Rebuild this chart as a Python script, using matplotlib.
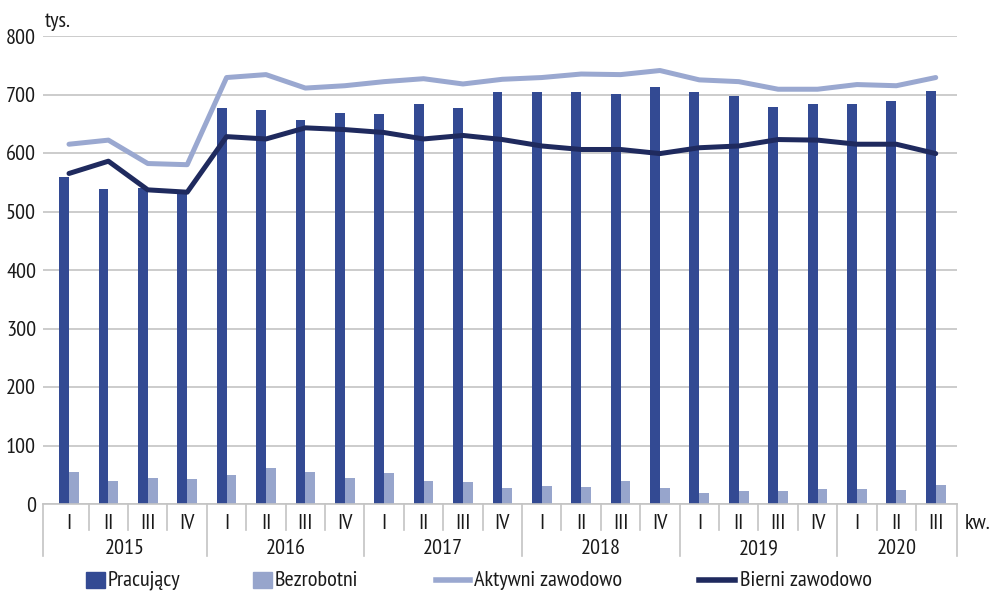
import matplotlib
matplotlib.use("Agg")
import matplotlib.pyplot as plt
import matplotlib.transforms as mtransforms
from matplotlib.patches import Rectangle
import numpy as np

FONT = ["PT Sans Narrow", "Open Sans Condensed", "Roboto Condensed", "DejaVu Sans"]
plt.rcParams["font.family"] = FONT
FS = 16

# ---- data (tys.) ----
years = ["2015", "2016", "2017", "2018", "2019", "2020"]
quarters = ["I", "II", "III", "IV"] * 5 + ["I", "II", "III"]
pracujacy = [559, 538, 540, 535, 677, 673, 656, 668, 667, 683, 677, 705,
             704, 704, 701, 712, 704, 698, 679, 684, 683, 689, 706]
bezrobotni = [54, 39, 45, 42, 49, 61, 54, 45, 53, 40, 37, 27,
              31, 29, 40, 27, 19, 22, 22, 26, 26, 24, 33]
aktywni = [615, 622, 582, 580, 729, 734, 711, 715, 722, 727, 718, 726,
           729, 735, 734, 741, 725, 722, 709, 709, 717, 715, 729]
bierni = [565, 586, 537, 533, 628, 624, 643, 640, 635, 624, 630, 623,
          612, 606, 606, 599, 609, 612, 623, 622, 615, 615, 599]
labels = ["Pracujący", "Bezrobotni", "Aktywni zawodowo", "Bierni zawodowo"]

DARK_BAR = "#334a93"
LIGHT_BAR = "#97a5cc"
LIGHT_LINE = "#9aa8d0"
DARK_LINE = "#1f2a5e"
GRID = "#c4c4c4"
TXT = "#1a1a1a"

x = np.arange(len(quarters))
w = 0.25

fig = plt.figure(figsize=(9.95, 5.94), dpi=100)
ax = fig.add_axes([43 / 995, 90 / 594, 914 / 995, 468 / 594])

ax.bar(x - w / 2, pracujacy, width=w, color=DARK_BAR, zorder=2)
ax.bar(x + w / 2, bezrobotni, width=w, color=LIGHT_BAR, zorder=2)
ax.plot(x, aktywni, color=LIGHT_LINE, lw=3.6, zorder=3, solid_capstyle="round")
ax.plot(x, bierni, color=DARK_LINE, lw=3.6, zorder=4, solid_capstyle="round")

x0, x1 = -0.66, 22.54
ax.set_xlim(x0, x1)
ax.set_ylim(0, 800)
ax.set_yticks(range(0, 801, 100))
ax.tick_params(axis="y", length=0, labelsize=FS, pad=5, labelcolor=TXT)
ax.set_xticks([])
ax.yaxis.grid(True, color=GRID, lw=1.2, zorder=0)
ax.set_axisbelow(True)
for s in ["top", "right", "left"]:
    ax.spines[s].set_visible(False)
ax.spines["bottom"].set_color(GRID)
ax.spines["bottom"].set_linewidth(1.2)

# category axis: quarters and years
trans = mtransforms.blended_transform_factory(ax.transData, ax.transAxes)
for i, q in enumerate(quarters):
    ax.text(i, -0.042, q, transform=trans, ha="center", va="center",
            fontsize=FS, color=TXT)
for i in range(len(quarters) - 1):
    if (i + 1) % 4 == 0:
        continue
    ax.plot([i + 0.5, i + 0.5], [0, -0.056], transform=trans, color=GRID,
            lw=1.2, clip_on=False)
bounds = [x0, 3.5, 7.5, 11.5, 15.5, 19.5, x1]
for b in bounds:
    ax.plot([b, b], [0, -0.111], transform=trans, color=GRID, lw=1.2, clip_on=False)
for k, yr in enumerate(years):
    ax.text((bounds[k] + bounds[k + 1]) / 2, -0.095, yr, transform=trans,
            ha="center", va="center", fontsize=FS, color=TXT)

ax.text(1.008, -0.042, "kw.", transform=ax.transAxes, ha="left", va="center",
        fontsize=FS, color=TXT)
ax.text(0.002, 1.03, "tys.", transform=ax.transAxes, ha="left", va="center",
        fontsize=FS, color=TXT)

# legend drawn in pixel space
lg = fig.add_axes([0, 0, 1, 1], zorder=-1)
lg.set_xlim(0, 995)
lg.set_ylim(594, 0)
lg.axis("off")
ly = 580
lg.add_patch(Rectangle((86, ly - 8), 19, 16, color=DARK_BAR))
lg.text(108, ly, labels[0], va="center", ha="left", fontsize=FS, color=TXT)
lg.add_patch(Rectangle((253, ly - 8), 19, 16, color=LIGHT_BAR))
lg.text(275, ly, labels[1], va="center", ha="left", fontsize=FS, color=TXT)
lg.plot([436, 470], [ly, ly], color=LIGHT_LINE, lw=4)
lg.text(474, ly, labels[2], va="center", ha="left", fontsize=FS, color=TXT)
lg.plot([699, 735], [ly, ly], color=DARK_LINE, lw=4)
lg.text(740, ly, labels[3], va="center", ha="left", fontsize=FS, color=TXT)

fig.savefig("out.png", dpi=100)
